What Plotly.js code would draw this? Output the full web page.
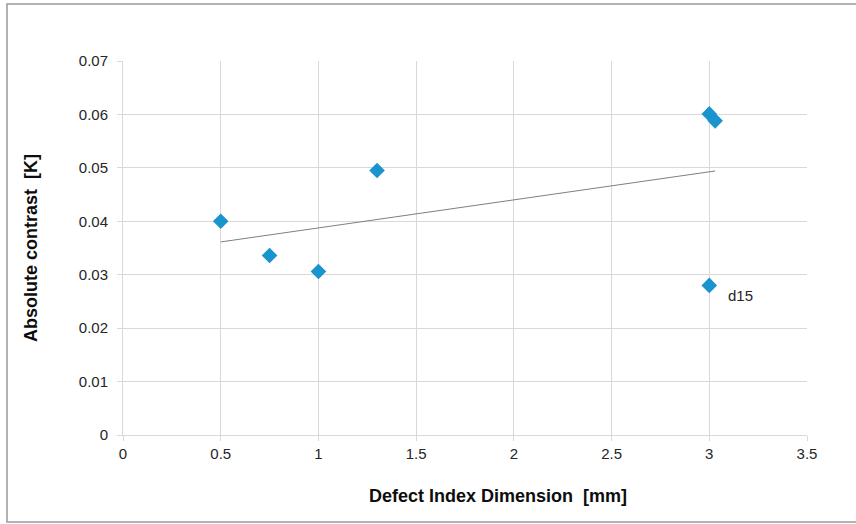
<!DOCTYPE html>
<html>
<head>
<meta charset="utf-8">
<script src="https://cdn.plot.ly/plotly-3.0.1.min.js"></script>
<style>html,body{margin:0;padding:0;background:#fff;}#chart{width:856px;height:524px;}</style>
</head>
<body>
<div id="chart"></div>
<script>
// Data
const defectDim = [0.5, 0.75, 1.0, 1.3, 3.0, 3.03, 3.0];
const absContrast = [0.0400, 0.0336, 0.0306, 0.0495, 0.0601, 0.0588, 0.0280];
const pointLabels = ["", "", "", "", "", "", "d15"];
const xTicks = [0, 0.5, 1, 1.5, 2, 2.5, 3, 3.5];
const yTicks = [0, 0.01, 0.02, 0.03, 0.04, 0.05, 0.06, 0.07];
const xTitle = 'Defect Index Dimension  [mm]';
const yTitle = 'Absolute contrast  [K]';

// Linear trendline (least squares) from the data
const n = defectDim.length;
const mx = defectDim.reduce((a,b)=>a+b,0)/n;
const my = absContrast.reduce((a,b)=>a+b,0)/n;
let sxy = 0, sxx = 0;
for (let i=0;i<n;i++){ sxy += (defectDim[i]-mx)*(absContrast[i]-my); sxx += (defectDim[i]-mx)**2; }
const slope = sxy/sxx, intercept = my - slope*mx;
const xMin = Math.min(...defectDim), xMax = Math.max(...defectDim);
const trendX = [xMin, xMax];
const trendY = trendX.map(x => intercept + slope*x);

const FONT = 'Liberation Sans, Arial, sans-serif';
const L = 123, R = 49, T = 61, B = 89, W = 856, H = 524;
const pw = W - L - R, ph = H - T - B;
const px = v => (v - L)/pw;
const py = v => (H - B - v)/ph;

const traces = [
  {x: trendX, y: trendY, mode: 'lines', line: {color: '#7f7f7f', width: 1}, hoverinfo: 'skip', showlegend: false},
  {x: defectDim, y: absContrast, mode: 'markers', marker: {symbol: 'diamond', size: 12, color: '#1a94cd'}, showlegend: false}
];

const annotations = [];
pointLabels.forEach((t,i)=>{
  if (t) annotations.push({x: defectDim[i], y: absContrast[i], xref: 'x', yref: 'y', text: t, showarrow: false,
    xanchor: 'left', yanchor: 'middle', xshift: 17, yshift: -10, font: {family: FONT, size: 15, color: '#262626'}});
});
annotations.push({x: px(498), y: py(496), xref: 'paper', yref: 'paper', text: xTitle, showarrow: false,
  xanchor: 'center', yanchor: 'middle', font: {family: FONT, size: 18, color: '#0d0d0d', weight: 'bold'}});

const layout = {
  width: W, height: H,
  margin: {l: L, r: R, t: T, b: B},
  paper_bgcolor: '#fff', plot_bgcolor: '#fff',
  font: {family: FONT, color: '#262626'},
  xaxis: {
    range: [0, 3.5], tickvals: xTicks, ticktext: xTicks.map(String),
    showgrid: true, gridcolor: '#d9d9d9', gridwidth: 1,
    zeroline: false, showline: true, linecolor: '#d9d9d9', linewidth: 1,
    ticks: 'outside', ticklen: 5, tickcolor: '#d9d9d9',
    tickfont: {family: FONT, size: 15, color: '#262626'}
  },
  yaxis: {
    range: [0, 0.07], tickvals: yTicks, ticktext: yTicks.map(v => v === 0 ? '0' : v.toFixed(2)),
    showgrid: true, gridcolor: '#d9d9d9', gridwidth: 1,
    zeroline: false, showline: true, linecolor: '#d9d9d9', linewidth: 1,
    ticks: 'outside', ticklen: 5, tickcolor: '#d9d9d9', ticklabelstandoff: 6,
    tickfont: {family: FONT, size: 15, color: '#262626'},
    title: {text: yTitle, font: {family: FONT, size: 18, color: '#0d0d0d', weight: 'bold'}, standoff: 36}
  },
  shapes: [
    {type: 'rect', xref: 'paper', yref: 'paper', x0: px(7), x1: px(870), y0: py(522), y1: py(4),
     line: {color: '#999999', width: 1.5}, fillcolor: 'rgba(0,0,0,0)', layer: 'below'}
  ],
  annotations: annotations
};

Plotly.newPlot('chart', traces, layout, {displayModeBar: false, staticPlot: true});
</script>
</body>
</html>
